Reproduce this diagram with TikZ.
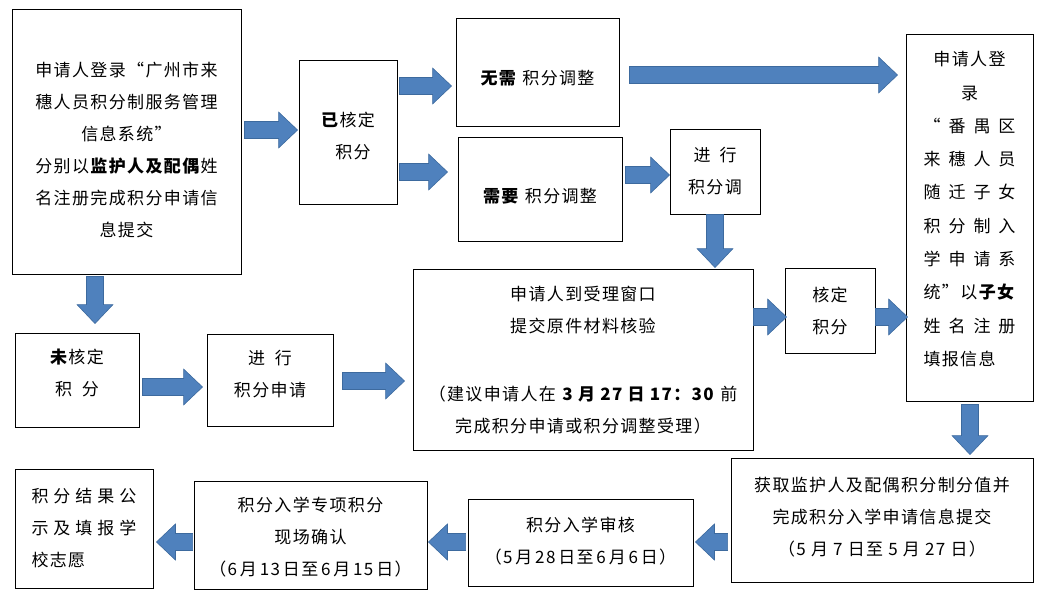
\documentclass[tikz,border=0pt]{standalone}
\usepackage{fontspec}
\usepackage{xcolor}
\usetikzlibrary{calc}
\newfontfamily\cjk{Noto Sans CJK SC}[LetterSpace=8]
\definecolor{flowBlue}{HTML}{4F81BD}
\definecolor{flowEdge}{HTML}{3D6A9E}
\newcommand{\spreadrow}[2]{\makebox[#1pt]{#2}}
% struts that move a node's text down / up inside its box
\newcommand{\pushdown}[1]{\rule{0pt}{\dimexpr 14pt+2\dimexpr #1pt\relax\relax}}
\newcommand{\pushup}[1]{\rule[-\dimexpr 2pt+2\dimexpr #1pt\relax\relax]{0pt}{0pt}}

\begin{document}
\begin{tikzpicture}[x=1pt, y=-1pt]
        % Styles
        \tikzstyle{stepbox} = [rectangle, draw=black, line width=0.9pt, align=center, inner sep=0pt, font=\cjk\fontsize{17}{32}\selectfont, text=black]
        \tikzstyle{blk} = [draw=flowEdge, fill=flowBlue, line width=0.6pt, line join=miter,
            to path={let \p1=(\tikztostart), \p2=(\tikztotarget),
                \n1={atan2(\y2-\y1,\x2-\x1)}, \n2={veclen(\x2-\x1,\y2-\y1)} in
                [shift={(\p1)}, rotate=\n1]
                (0pt,-8.5pt) -- ({\n2-19pt},-8.5pt) -- ({\n2-19pt},-18pt) -- ({\n2},0pt)
                -- ({\n2-19pt},18pt) -- ({\n2-19pt},8.5pt) -- (0pt,8.5pt) -- cycle}]

        \useasboundingbox (0,0) rectangle (1047,598);

        % Nodes
        \node (login) [stepbox, minimum width=229pt, minimum height=265pt] at (126.5,141.5) {\pushdown{9}申请人登录“广州市来\\穗人员积分制服务管理\\信息系统”\\分别以\textbf{监护人及配偶}姓\\名注册完成积分申请信\\息提交};

        \node (scored) [stepbox, minimum width=98pt, minimum height=144pt] at (348,132) {\pushdown{4}\textbf{已}核定\\\hspace{10pt}积分};

        \node (noadj) [stepbox, minimum width=163pt, minimum height=108pt] at (537.5,72) {\pushdown{6}\textbf{无需} 积分调整};

        \node (needadj) [stepbox, minimum width=164pt, minimum height=104pt] at (540,189) {\pushdown{7}\textbf{需要} 积分调整};

        \node (adjust) [stepbox, minimum width=90pt, minimum height=85pt] at (715,171.5) {进\hspace{9pt}行\\积分调};

        \node (sysreg) [stepbox, minimum width=127pt, minimum height=367pt, font=\cjk\fontsize{17}{33.3}\selectfont] at (969.5,217.5) {申请人登\\录\\\spreadrow{92}{“\hfill 番\hfill 禺\hfill 区}\\\spreadrow{92}{来\hfill 穗\hfill 人\hfill 员}\\\spreadrow{92}{随\hfill 迁\hfill 子\hfill 女}\\\spreadrow{92}{积\hfill 分\hfill 制\hfill 入}\\\spreadrow{92}{学\hfill 申\hfill 请\hfill 系}\\\spreadrow{92}{统”\hfill 以\textbf{子女}}\\\spreadrow{92}{姓\hfill 名\hfill 注\hfill 册}\\\spreadrow{92}{填报信息\hfill}\pushup{8}};

        \node (window) [stepbox, minimum width=340pt, minimum height=181pt] at (583,359.5) {\pushdown{1}申请人到受理窗口\\提交原件材料核验\\[36pt]（建议申请人在 \textbf{3 月 27 日 17：30} 前\\完成积分申请或积分调整受理）};

        \node (verify) [stepbox, minimum width=90pt, minimum height=85pt] at (830,310.5) {核定\\积分};

        \node (unscored) [stepbox, minimum width=124pt, minimum height=94pt] at (77,380) {\textbf{未}核定\\积\hspace{10pt}分\pushup{7}};

        \node (apply) [stepbox, minimum width=126pt, minimum height=92pt] at (270,380) {进\hspace{10pt}行\\积分申请\pushup{6}};

        \node (fetch) [stepbox, minimum width=302pt, minimum height=124pt] at (882,520) {获取监护人及配偶积分制分值并\\完成积分入学申请信息提交\\（5 月 7 日至 5 月 27 日）\pushup{3}};

        \node (review) [stepbox, minimum width=225pt, minimum height=87pt] at (580.5,542.5) {积分入学审核\\（5\,月\,28\,日至\,6\,月\,6\,日）\pushup{1}};

        \node (confirm) [stepbox, minimum width=233pt, minimum height=108pt] at (310.5,535) {\pushdown{2}积分入学专项积分\\现场确认\\（6\,月\,13\,日至\,6\,月\,15\,日）};

        \node (publish) [stepbox, minimum width=138pt, minimum height=119pt] at (84,528.5) {\spreadrow{105}{积\hfill 分\hfill 结\hfill 果\hfill 公}\\\spreadrow{105}{示\hfill 及\hfill 填\hfill 报\hfill 学}\\\spreadrow{105}{校志愿\hfill}};

        % Arrows
        \draw [blk] ($(login.east |- 0,130)+(3,0)$) to ($(scored.west |- 0,130)+(-1,0)$);
        \draw [blk] ($(scored.east |- 0,86)+(2,0)$) to ($(noadj.west |- 0,86)+(-4,0)$);
        \draw [blk] ($(scored.east |- 0,172)+(2,0)$) to ($(needadj.west |- 0,172)+(-10,0)$);
        \draw [blk] ($(noadj.east |- 0,75)+(10,0)$) to ($(sysreg.west |- 0,75)+(-8,0)$);
        \draw [blk] ($(needadj.east |- 0,175)+(3,0)$) to ($(adjust.west |- 0,175)$);
        \draw [blk] (adjust.south) to ($(window.north -| adjust.south)+(0,-1)$);
        \draw [blk] ($(login.south -| 95,0)+(0,2)$) to ($(unscored.north -| 95,0)+(0,-9)$);
        \draw [blk] ($(unscored.east |- 0,387)+(3,0)$) to ($(apply.west |- 0,387)+(-4,0)$);
        \draw [blk] ($(apply.east |- 0,381)+(9,0)$) to ($(window.west |- 0,381)+(-8,0)$);
        \draw [blk] ($(window.east |- 0,317)$) to ($(verify.west |- 0,317)+(2,0)$);
        \draw [blk] ($(verify.east |- 0,317)$) to ($(sysreg.west |- 0,317)+(2,0)$);
        \draw [blk] ($(sysreg.south -| 970,0)+(0,3)$) to ($(fetch.north -| 970,0)+(0,-3)$);
        \draw [blk] ($(fetch.west |- 0,542)+(-3,0)$) to ($(review.east |- 0,542)+(2,0)$);
        \draw [blk] ($(review.west |- 0,542)+(-2,0)$) to ($(confirm.east |- 0,542)+(1,0)$);
        \draw [blk] ($(confirm.west |- 0,542)+(-1,0)$) to ($(publish.east |- 0,542)+(3,0)$);

\end{tikzpicture}
\end{document}
